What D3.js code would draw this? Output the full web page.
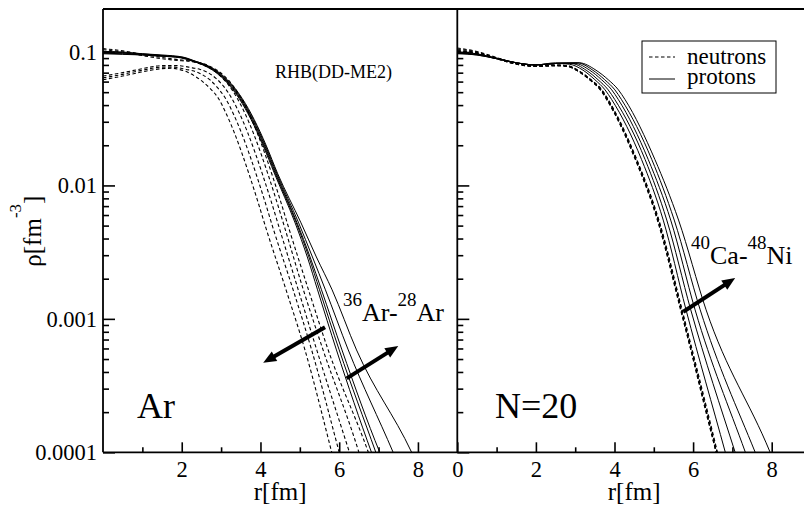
<!DOCTYPE html>
<html><head><meta charset="utf-8">
<script src="https://cdn.jsdelivr.net/npm/d3@7"></script>
<style>
body{margin:0;background:#fff}
svg{display:block}
svg text{font-family:"Liberation Serif","Tinos","Times New Roman","Nimbus Roman","DejaVu Serif","Noto Serif",serif !important;fill:#000}
</style>
</head><body>
<svg id="chart" width="804" height="506"></svg>
<script>
// ---------------- data (r in fm, rho in fm^-3) ----------------
const xTickLabelsLeft = [2, 4, 6, 8];
const xTickLabelsRight = [0, 2, 4, 6, 8];
const xMinorTicks = [1, 3, 5, 7];
const yTickValues = [0.1, 0.01, 0.001, 0.0001];
const yTickLabels = ["0.1", "0.01", "0.001", "0.0001"];

// Left panel: Ar isotopes, neutron densities (dashed)
const arN28 = [[0,0.062],[0.5,0.066],[1.0,0.071],[1.5,0.075],[1.75,0.0755],[1.93,0.074],[2.13,0.071],[2.33,0.066],[2.53,0.060],[2.73,0.053],[2.93,0.045],[3.13,0.0345],[3.33,0.0251],[3.53,0.0174],[3.73,0.01166],[3.93,0.00763],[4.13,0.00489],[4.65,0.00165],[5.13,0.000585],[5.81,0.0001],[6.0,0.00006]];
const arN30 = [[0,0.064],[0.5,0.068],[1.0,0.073],[1.5,0.077],[1.8,0.077],[2.11,0.074],[2.31,0.072],[2.51,0.068],[2.71,0.062],[2.91,0.054],[3.11,0.045],[3.31,0.0345],[3.51,0.0251],[3.71,0.0174],[3.91,0.01166],[4.11,0.00763],[4.31,0.00489],[4.83,0.00165],[5.30,0.000585],[6.0,0.0001],[6.2,0.00006]];
const arN32 = [[0,0.066],[0.5,0.070],[1.0,0.075],[1.5,0.079],[1.9,0.079],[2.27,0.076],[2.47,0.074],[2.67,0.070],[2.87,0.0635],[3.07,0.055],[3.27,0.045],[3.47,0.0345],[3.67,0.0251],[3.87,0.0174],[4.07,0.01166],[4.27,0.00763],[4.47,0.00489],[4.96,0.00165],[5.43,0.000585],[6.26,0.0001],[6.5,0.00006]];
const arN34 = [[0,0.104],[0.5,0.100],[1.0,0.094],[1.5,0.089],[2.0,0.086],[2.21,0.0851],[2.41,0.0824],[2.61,0.0783],[2.81,0.0726],[3.01,0.0649],[3.21,0.0555],[3.41,0.045],[3.61,0.0345],[3.81,0.0251],[4.01,0.0174],[4.21,0.01166],[4.41,0.00763],[4.61,0.00489],[5.09,0.00165],[5.59,0.000585],[6.5,0.0001],[6.8,0.00005]];
const arN36 = [[0,0.106],[0.5,0.102],[1.0,0.096],[1.5,0.091],[2.0,0.087],[2.31,0.0851],[2.51,0.0824],[2.71,0.0783],[2.91,0.0726],[3.11,0.0649],[3.31,0.0555],[3.51,0.045],[3.71,0.0345],[3.91,0.0251],[4.11,0.0174],[4.31,0.01166],[4.51,0.00763],[4.71,0.00489],[5.22,0.00165],[5.72,0.000585],[6.74,0.0001],[7.0,0.00006]];

// Left panel: Ar isotopes, proton densities (solid)
const arP36 = [[0,0.097],[0.5,0.096],[1.0,0.095],[1.5,0.093],[1.96,0.0905],[2.26,0.0855],[2.56,0.0795],[2.86,0.0705],[3.16,0.0585],[3.46,0.0447],[3.76,0.0312],[4.06,0.0201],[4.36,0.0122],[4.88,0.00524],[5.19,0.00291],[5.45,0.00165],[5.93,0.000585],[6.82,0.0001],[7.1,0.00006]];
const arP34 = [[0,0.098],[0.5,0.097],[1.0,0.095],[1.5,0.093],[1.98,0.091],[2.28,0.0855],[2.58,0.0795],[2.88,0.0705],[3.18,0.0585],[3.48,0.0447],[3.78,0.0312],[4.08,0.0201],[4.38,0.0122],[4.91,0.00524],[5.23,0.00291],[5.50,0.00165],[6.00,0.000585],[6.93,0.0001],[7.2,0.00006]];
const arP32 = [[0,0.099],[0.5,0.098],[1.0,0.096],[1.5,0.094],[2.0,0.091],[2.3,0.0855],[2.6,0.0795],[2.9,0.0705],[3.2,0.0585],[3.5,0.0447],[3.8,0.0312],[4.1,0.0201],[4.4,0.0122],[4.93,0.00524],[5.26,0.00291],[5.55,0.00165],[6.07,0.000585],[7.03,0.0001],[7.35,0.00006]];
const arP30 = [[0,0.100],[0.5,0.099],[1.0,0.097],[1.5,0.094],[2.02,0.0912],[2.32,0.0855],[2.62,0.0795],[2.92,0.0705],[3.22,0.0585],[3.52,0.0447],[3.82,0.0312],[4.12,0.0201],[4.42,0.0122],[4.97,0.00524],[5.32,0.00291],[5.65,0.00165],[6.23,0.000585],[7.37,0.0001],[7.8,0.00005]];
const arP28 = [[0,0.101],[0.5,0.100],[1.0,0.097],[1.5,0.095],[2.04,0.0915],[2.34,0.0855],[2.64,0.0795],[2.94,0.0705],[3.24,0.0585],[3.54,0.0447],[3.84,0.0312],[4.14,0.0201],[4.44,0.0122],[5.03,0.00524],[5.42,0.00291],[5.82,0.00165],[6.44,0.000585],[7.84,0.0001],[8.3,0.00005]];

// Right panel: N=20 isotones, neutron densities (dashed)
const caN40 = [[0,0.107],[0.5,0.101],[1.0,0.091],[1.5,0.082],[2.0,0.079],[2.5,0.080],[2.8,0.079],[3.1,0.072],[3.4,0.062],[3.67,0.052],[3.80,0.0455],[4.56,0.0156],[5.12,0.0055],[5.71,0.00117],[6.61,0.0001],[6.8,0.00006]];
const tiN42 = [[0,0.105],[0.5,0.100],[1.0,0.090],[1.5,0.082],[2.0,0.079],[2.5,0.080],[2.8,0.079],[3.1,0.072],[3.4,0.062],[3.68,0.052],[3.81,0.0455],[4.57,0.0156],[5.13,0.0055],[5.72,0.00117],[6.62,0.0001],[6.8,0.00006]];
const crN44 = [[0,0.103],[0.5,0.099],[1.0,0.090],[1.5,0.082],[2.0,0.078],[2.5,0.079],[2.8,0.078],[3.1,0.071],[3.4,0.061],[3.66,0.052],[3.79,0.0455],[4.55,0.0156],[5.11,0.0055],[5.70,0.00117],[6.60,0.0001],[6.8,0.00006]];
const feN46 = [[0,0.102],[0.5,0.098],[1.0,0.089],[1.5,0.081],[2.0,0.078],[2.5,0.079],[2.8,0.078],[3.1,0.071],[3.4,0.061],[3.65,0.052],[3.78,0.0455],[4.54,0.0156],[5.10,0.0055],[5.69,0.00117],[6.59,0.0001],[6.8,0.00006]];
const niN48 = [[0,0.101],[0.5,0.098],[1.0,0.089],[1.5,0.081],[2.0,0.078],[2.5,0.079],[2.8,0.078],[3.1,0.071],[3.4,0.061],[3.64,0.052],[3.77,0.0455],[4.53,0.0156],[5.09,0.0055],[5.68,0.00117],[6.58,0.0001],[6.8,0.00005]];

// Right panel: N=20 isotones, proton densities (solid)
const caP40 = [[0,0.100],[0.5,0.097],[1.0,0.090],[1.5,0.083],[2.0,0.080],[2.5,0.082],[2.85,0.081],[3.2,0.073],[3.5,0.062],[3.76,0.052],[3.93,0.0439],[4.69,0.0156],[5.24,0.0055],[5.82,0.00117],[6.82,0.0001],[7.1,0.00005]];
const tiP42 = [[0,0.099],[0.5,0.096],[1.0,0.090],[1.5,0.083],[2.0,0.080],[2.5,0.082],[2.9,0.082],[3.28,0.073],[3.58,0.062],[3.84,0.052],[4.01,0.0439],[4.78,0.0156],[5.33,0.0055],[5.94,0.00117],[7.07,0.0001],[7.4,0.00005]];
const crP44 = [[0,0.098],[0.5,0.096],[1.0,0.089],[1.5,0.083],[2.0,0.080],[2.5,0.082],[3.0,0.082],[3.37,0.073],[3.67,0.062],[3.93,0.052],[4.10,0.0439],[4.86,0.0156],[5.43,0.0055],[6.05,0.00117],[7.33,0.0001],[7.7,0.00005]];
const feP46 = [[0,0.098],[0.5,0.095],[1.0,0.089],[1.5,0.083],[2.0,0.080],[2.5,0.082],[3.05,0.083],[3.45,0.073],[3.75,0.062],[4.01,0.052],[4.18,0.0439],[4.95,0.0156],[5.52,0.0055],[6.18,0.00117],[7.58,0.0001],[8.0,0.00005]];
const niP48 = [[0,0.097],[0.5,0.095],[1.0,0.089],[1.5,0.083],[2.0,0.080],[2.5,0.083],[3.1,0.083],[3.53,0.073],[3.84,0.062],[4.10,0.052],[4.27,0.0439],[5.03,0.0156],[5.63,0.0055],[6.33,0.00117],[7.96,0.0001],[8.5,0.00004]];

// arrows (start, tip) in data coordinates
const arrowArNeutrons = [[5.64, 0.000865], [4.07, 0.000469]];
const arrowArProtons = [[6.19, 0.000358], [7.50, 0.000626]];
const arrowCaProtons = [[5.75, 0.00113], [7.07, 0.00202]];

// ---------------- layout ----------------
const FONT = '"Liberation Serif","Tinos","Times New Roman","Nimbus Roman","DejaVu Serif","Noto Serif",serif';
const svg = d3.select("#chart").attr("font-family", FONT);
const W = 804, H = 506;
const yTop = 9, yBot = 452.3;
const xLeft = d3.scaleLinear().domain([0, 9]).range([103, 457.3]);
const xRight = d3.scaleLinear().domain([0, 9]).range([457.3, 811]);
const y = d3.scaleLog().domain([0.0001, 0.21]).range([yBot, yTop]);

const defs = svg.append("defs");
defs.append("clipPath").attr("id", "clipL").append("rect")
  .attr("x", 103).attr("y", yTop).attr("width", 457.3 - 103).attr("height", yBot - yTop);
defs.append("clipPath").attr("id", "clipR").append("rect")
  .attr("x", 457.3).attr("y", yTop).attr("width", 811 - 457.3).attr("height", yBot - yTop);

function drawCurves(g, x, curves, dashed) {
  const line = d3.line().x(d => x(d[0])).y(d => y(d[1])).curve(d3.curveMonotoneX);
  g.selectAll(null).data(curves).enter().append("path")
    .attr("d", line)
    .attr("fill", "none")
    .attr("stroke", "#000")
    .attr("stroke-width", dashed ? 1.1 : 1)
    .attr("stroke-dasharray", dashed ? "3.5,2.5" : null);
}

const gL = svg.append("g").attr("clip-path", "url(#clipL)");
drawCurves(gL, xLeft, [arN28, arN30, arN32, arN34, arN36], true);
drawCurves(gL, xLeft, [arP36, arP34, arP32, arP30, arP28], false);

const gR = svg.append("g").attr("clip-path", "url(#clipR)");
drawCurves(gR, xRight, [caN40, tiN42, crN44, feN46, niN48], true);
drawCurves(gR, xRight, [caP40, tiP42, crP44, feP46, niP48], false);

// ---------------- axes ----------------
function styleAxis(g) {
  g.attr("font-family", FONT);
  g.select(".domain").remove();
  g.selectAll(".tick line").attr("stroke", "#000").attr("stroke-width", 1.6);
  g.selectAll(".tick text").attr("font-family", FONT).attr("font-size", 22.5).attr("fill", "#000");
}
const minorY = y.ticks().filter(v => v <= 0.1 && yTickValues.indexOf(v) < 0);

svg.append("g").attr("transform", `translate(${xLeft(0)},0)`)
  .call(d3.axisLeft(y).tickValues(yTickValues).tickFormat((d, i) => yTickLabels[i])
        .tickSize(-12).tickPadding(6).tickSizeOuter(0))
  .call(styleAxis);
svg.append("g").attr("transform", `translate(${xLeft(0)},0)`)
  .call(d3.axisLeft(y).tickValues(minorY).tickFormat("").tickSize(-6).tickSizeOuter(0))
  .call(styleAxis);
svg.append("g").attr("transform", `translate(${xRight(0)},0)`)
  .call(d3.axisLeft(y).tickValues(yTickValues).tickFormat("").tickSize(-12).tickSizeOuter(0))
  .call(styleAxis);
svg.append("g").attr("transform", `translate(${xRight(0)},0)`)
  .call(d3.axisLeft(y).tickValues(minorY).tickFormat("").tickSize(-6).tickSizeOuter(0))
  .call(styleAxis);

svg.append("g").attr("transform", `translate(0,${yBot})`)
  .call(d3.axisBottom(xLeft).tickValues(xTickLabelsLeft).tickSize(-10).tickPadding(9).tickSizeOuter(0))
  .call(styleAxis);
svg.append("g").attr("transform", `translate(0,${yBot})`)
  .call(d3.axisBottom(xLeft).tickValues(xMinorTicks).tickFormat("").tickSize(-5).tickSizeOuter(0))
  .call(styleAxis);
svg.append("g").attr("transform", `translate(0,${yBot})`)
  .call(d3.axisBottom(xRight).tickValues(xTickLabelsRight).tickSize(-10).tickPadding(9).tickSizeOuter(0))
  .call(styleAxis);
svg.append("g").attr("transform", `translate(0,${yBot})`)
  .call(d3.axisBottom(xRight).tickValues(xMinorTicks).tickFormat("").tickSize(-5).tickSizeOuter(0))
  .call(styleAxis);

const frame = svg.append("g").attr("stroke", "#000").attr("stroke-width", 1.8).attr("fill", "none");
frame.append("line").attr("x1", xLeft(0)).attr("x2", W).attr("y1", yTop).attr("y2", yTop);
frame.append("line").attr("x1", xLeft(0)).attr("x2", W).attr("y1", yBot).attr("y2", yBot);
frame.append("line").attr("x1", xLeft(0)).attr("x2", xLeft(0)).attr("y1", yTop).attr("y2", yBot);
frame.append("line").attr("x1", xRight(0)).attr("x2", xRight(0)).attr("y1", yTop).attr("y2", yBot);

[xLeft, xRight].forEach(x => {
  svg.append("text").attr("x", x(4.5)).attr("y", 500).attr("text-anchor", "middle")
    .attr("font-size", 25).text("r[fm]");
});
const yl = svg.append("text").attr("transform", "translate(41,266.7) rotate(-90)")
  .attr("font-size", 25);
yl.append("tspan").text("ρ[fm");
yl.append("tspan").attr("font-size", 17).attr("dy", -20).text("-3");
yl.append("tspan").attr("dy", 20).text("]");

// ---------------- arrows ----------------
function arrow(x, pts) {
  const x0 = x(pts[0][0]), y0 = y(pts[0][1]), x1 = x(pts[1][0]), y1 = y(pts[1][1]);
  const dx = x1 - x0, dy = y1 - y0, len = Math.hypot(dx, dy);
  const ux = dx / len, uy = dy / len, hl = 13, hw = 5.5;
  const bx = x1 - ux * hl, by = y1 - uy * hl;
  svg.append("line").attr("x1", x0).attr("y1", y0).attr("x2", bx + ux).attr("y2", by + uy)
    .attr("stroke", "#000").attr("stroke-width", 4);
  svg.append("path").attr("d", `M${x1},${y1}L${bx - uy * hw},${by + ux * hw}L${bx + uy * hw},${by - ux * hw}Z`)
    .attr("fill", "#000");
}
arrow(xLeft, arrowArNeutrons);
arrow(xLeft, arrowArProtons);
arrow(xRight, arrowCaProtons);

// ---------------- annotations ----------------
function isoLabel(x0, base, a1, s1, a2, s2) {
  const t = svg.append("text").attr("x", x0).attr("y", base).attr("font-size", 26);
  t.append("tspan").attr("font-size", 19).attr("dy", -15).text(a1);
  t.append("tspan").attr("dy", 15).text(s1);
  t.append("tspan").attr("font-size", 19).attr("dy", -15).text(a2);
  t.append("tspan").attr("dy", 15).text(s2);
}
isoLabel(343, 321, "36", "Ar-", "28", "Ar");
isoLabel(691, 264, "40", "Ca-", "48", "Ni");

svg.append("text").attr("x", 137).attr("y", 418).attr("font-size", 36).text("Ar");
svg.append("text").attr("x", 495).attr("y", 418).attr("font-size", 36).text("N=20");
svg.append("text").attr("x", 275).attr("y", 78).attr("font-size", 18).text("RHB(DD-ME2)");

const lg = svg.append("g");
lg.append("rect").attr("x", 642).attr("y", 41).attr("width", 134).attr("height", 52)
  .attr("fill", "#fff").attr("stroke", "#000").attr("stroke-width", 1);
lg.append("line").attr("x1", 649).attr("x2", 675).attr("y1", 57).attr("y2", 57)
  .attr("stroke", "#000").attr("stroke-width", 1.1).attr("stroke-dasharray", "3.5,2.5");
lg.append("line").attr("x1", 649).attr("x2", 675).attr("y1", 79).attr("y2", 79)
  .attr("stroke", "#000").attr("stroke-width", 1);
lg.append("text").attr("x", 687).attr("y", 64).attr("font-size", 23).text("neutrons");
lg.append("text").attr("x", 687).attr("y", 84).attr("font-size", 23).text("protons");
</script>
</body></html>
